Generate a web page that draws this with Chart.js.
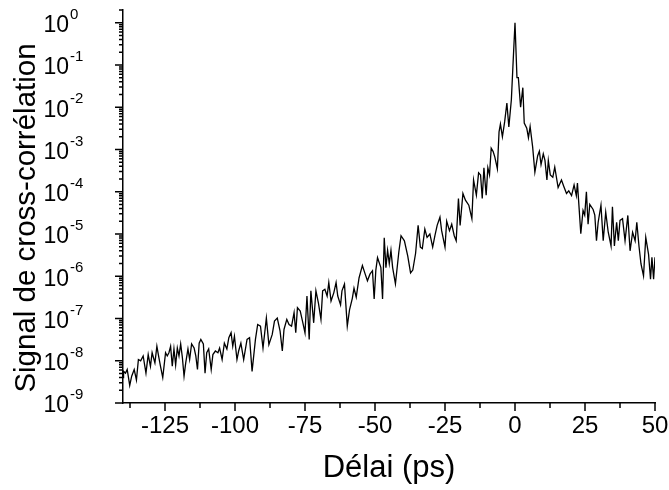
<!DOCTYPE html>
<html>
<head>
<meta charset="utf-8">
<script src="https://cdn.jsdelivr.net/npm/chart.js@4/dist/chart.umd.min.js"></script>
<style>
  html, body { margin: 0; padding: 0; background: #fff; }
</style>
</head>
<body>
<canvas id="myChart" width="669" height="490"></canvas>
<script>
// delay (ps)
const delays = [
  -140.0,-139.8,-139.1,-138.5,-137.6,-136.9,-136.0,-135.2,-134.5,-133.7,
  -132.8,-131.8,-131.0,-130.2,-129.6,-128.6,-127.9,-127.2,-126.6,-125.8,
  -124.8,-124.2,-123.6,-123.0,-122.4,-121.8,-121.2,-120.6,-120.0,-119.4,
  -118.8,-118.2,-117.6,-116.8,-116.2,-115.5,-114.6,-114.0,-113.4,-112.8,
  -112.2,-111.3,-110.7,-110.1,-109.4,-108.5,-107.9,-107.0,-106.1,-105.5,
  -104.6,-103.8,-102.9,-102.2,-101.4,-100.8,-100.2,-99.3,-98.7,-97.9,
  -96.9,-95.7,-94.8,-93.9,-92.7,-91.9,-90.9,-90.0,-88.8,-87.9,
  -86.7,-85.9,-84.9,-83.9,-83.1,-82.5,-81.5,-80.7,-79.8,-78.9,
  -78.3,-77.7,-76.7,-75.9,-75.0,-74.3,-73.5,-72.9,-71.9,-71.1,
  -70.2,-69.3,-68.7,-67.9,-67.1,-66.5,-65.7,-64.7,-63.9,-63.3,
  -62.3,-61.8,-60.9,-59.9,-59.1,-58.1,-57.5,-56.7,-55.7,-54.5,
  -53.5,-52.7,-51.8,-50.9,-50.3,-49.7,-49.1,-47.9,-47.3,-46.7,
  -46.1,-45.5,-44.9,-44.3,-43.7,-42.7,-41.5,-40.7,-39.5,-38.3,
  -37.3,-36.5,-35.5,-34.6,-33.8,-33.1,-32.2,-31.4,-30.4,-29.4,
  -28.6,-27.8,-26.8,-26.2,-25.0,-24.4,-23.4,-22.6,-21.7,-21.0,
  -20.2,-19.6,-18.6,-17.7,-16.5,-15.4,-14.8,-13.8,-13.0,-12.3,
  -11.7,-11.1,-10.3,-9.7,-9.1,-8.5,-7.8,-7.2,-6.3,-5.7,
  -5.2,-4.5,-3.7,-2.9,-2.2,-1.3,-0.75,0,0.7,1.2,
  2.0,2.8,3.3,4.2,4.8,5.4,6.3,7.1,8.1,8.7,
  9.3,10.1,10.7,11.4,11.9,12.6,13.5,14.2,15.4,16.6,
  17.5,18.4,19.2,20.2,21.1,21.9,22.3,23.5,24.3,24.9,
  25.5,26.1,26.7,27.9,28.5,29.1,29.7,30.7,31.5,32.4,
  33.3,34.3,34.8,35.5,36.3,36.9,37.5,38.4,39.3,40.3,
  41.1,42.0,42.9,43.5,44.3,45.0,45.9,46.7,47.7,48.4,
  48.9,49.5,50.0
];

// cross-correlation signal (normalised)
const signal = [
  4.0e-9,5.6e-9,5.1e-9,6.2e-9,2.6e-9,4.3e-9,6.2e-9,3.5e-9,1.07e-8,1.0e-8,
  1.3e-8,5.1e-9,1.4e-8,7.4e-9,1.55e-8,8.9e-9,2.2e-8,1.2e-8,7.4e-9,4.0e-9,
  1.55e-8,1.3e-8,1.55e-8,2.2e-8,7.4e-9,1.9e-8,7.9e-9,2.0e-8,1.3e-8,2.5e-8,
  1.2e-8,4.3e-9,8.9e-9,1.9e-8,1.07e-8,2.5e-8,2.0e-8,1.3e-8,6.2e-9,2.6e-8,
  3.2e-8,2.5e-8,5.1e-9,1.55e-8,1.9e-8,6.2e-9,1.4e-8,1.7e-8,1.55e-8,2.0e-8,
  1.07e-8,2.6e-8,1.9e-8,3.5e-8,4.6e-8,2.2e-8,3.8e-8,1.07e-8,1.7e-8,2.6e-8,
  1.07e-8,3.2e-8,3.5e-8,5.6e-9,3.2e-8,7.2e-8,6.6e-8,2.0e-8,1.02e-7,2.4e-8,
  4.2e-8,8.7e-8,1.02e-7,5.0e-8,1.7e-8,5.5e-8,9.5e-8,7.2e-8,6.6e-8,1.38e-7,
  4.6e-8,1.8e-7,1.5e-7,8.7e-8,4.6e-8,3.4e-7,3.2e-8,4.5e-7,7.9e-8,4.5e-7,
  2.3e-7,9.5e-8,4.5e-7,4.9e-7,3.4e-7,7.1e-7,2.6e-7,4.1e-7,7.1e-7,3.4e-7,
  2.1e-7,4.5e-7,6.5e-7,6.6e-8,1.6e-7,3.0e-7,5.2e-7,3.2e-7,9.1e-7,1.8e-6,
  1.12e-6,7.8e-7,1.12e-6,1.35e-6,2.9e-7,1.4e-6,2.75e-6,1.6e-6,2.9e-7,8.1e-6,
  1.6e-6,4.1e-6,2.0e-6,4.1e-6,1.6e-6,6.6e-7,3.7e-6,9.1e-6,6.9e-6,3.0e-6,
  1.2e-6,1.4e-6,3.5e-6,1.6e-5,4.9e-6,4.5e-6,1.3e-5,8.3e-6,1.0e-5,4.9e-6,
  9.1e-6,1.6e-5,2.5e-5,1.2e-5,4.9e-6,2.0e-5,1.2e-5,1.7e-5,9.1e-6,6.9e-6,
  6.9e-5,1.6e-5,9.1e-5,6.3e-5,4.8e-5,2.3e-5,1.9e-4,8.3e-5,2.8e-4,2.5e-4,
  6.9e-5,3.7e-4,8.3e-5,3.7e-4,2.5e-4,1.07e-3,8.9e-4,6.6e-4,3.5e-4,2.6e-3,
  4.0e-3,2.0e-3,4.5e-3,1.26e-2,3.4e-3,1.5e-2,9.1e-2,1.0,5.0e-2,5.0e-2,
  1.0e-2,2.9e-2,4.2e-3,3.2e-3,1.9e-3,3.5e-3,1.15e-3,2.9e-4,7.1e-4,9.1e-4,
  4.4e-4,7.9e-4,5.5e-4,1.9e-4,5.5e-4,2.5e-4,2.2e-4,3.8e-4,1.26e-4,1.9e-4,
  1.3e-4,9.1e-5,1.05e-4,8.1e-5,1.45e-4,8.1e-5,1.6e-4,1.02e-5,3.6e-5,2.8e-5,
  1.0e-4,1.7e-5,5.0e-5,3.8e-5,2.8e-5,6.9e-6,1.9e-5,4.8e-5,6.9e-6,3.3e-5,
  1.1e-5,5.2e-6,4.4e-5,5.2e-6,1.9e-5,6.9e-6,2.1e-5,2.3e-5,6.9e-6,2.75e-5,
  4.0e-6,1.1e-5,6.9e-6,1.9e-5,5.0e-6,1.95e-6,1.02e-6,8.3e-6,3.3e-6,8.5e-7,
  2.8e-6,8.5e-7,2.8e-6
];

const xMajorTicks = [-125, -100, -75, -50, -25, 0, 25, 50];
const xMinorTicks = [-137.5, -112.5, -87.5, -62.5, -37.5, -12.5, 12.5, 37.5];
const yDecades = [1e-9, 1e-8, 1e-7, 1e-6, 1e-5, 1e-4, 1e-3, 1e-2, 1e-1, 1e0];
const yExponents = ['-9', '-8', '-7', '-6', '-5', '-4', '-3', '-2', '-1', '0'];
const yMantissas = [2, 3, 4, 5, 6, 7, 8, 9];
const yTitle = 'Signal de cross-corrélation';

const FONT = '"Liberation Sans", Arial, Helvetica, sans-serif';

// tick marks (long/short), 10^n labels and y title, placed with the library's scales
const axisTicks = {
  id: 'axisTicks',
  afterDraw(chart) {
    const { ctx, scales: { x, y } } = chart;
    const bottom = y.bottom, left = x.left;
    ctx.save();
    ctx.strokeStyle = '#000';
    ctx.lineWidth = 1.5;
    ctx.beginPath();
    xMajorTicks.forEach(v => {
      const px = x.getPixelForValue(v);
      ctx.moveTo(px, bottom); ctx.lineTo(px, bottom + 8);
    });
    xMinorTicks.forEach(v => {
      const px = x.getPixelForValue(v);
      ctx.moveTo(px, bottom); ctx.lineTo(px, bottom + 5);
    });
    yDecades.forEach(d => {
      const py = y.getPixelForValue(d);
      ctx.moveTo(left, py); ctx.lineTo(left - 8, py);
      yMantissas.forEach(m => {
        const v = m * d;
        if (v > y.max) return;
        const pm = y.getPixelForValue(v);
        ctx.moveTo(left, pm); ctx.lineTo(left - 4, pm);
      });
    });
    ctx.stroke();

    ctx.fillStyle = '#000';
    ctx.textBaseline = 'middle';
    yDecades.forEach((d, i) => {
      const py = y.getPixelForValue(d);
      ctx.font = '23px ' + FONT;
      ctx.textAlign = 'right';
      ctx.fillText('10', 69, py + 3);
      ctx.font = '15px ' + FONT;
      ctx.textAlign = 'left';
      ctx.fillText(yExponents[i], 70, py - 8);
    });

    ctx.translate(27, 218);
    ctx.rotate(-Math.PI / 2);
    ctx.textAlign = 'center';
    ctx.font = '29.5px ' + FONT;
    ctx.fillText(yTitle, 0, 0);
    ctx.restore();
  }
};

const ctx = document.getElementById('myChart').getContext('2d');
const myChart = new Chart(ctx, {
  type: 'line',
  data: {
    datasets: [{
      data: delays.map((d, i) => ({ x: d, y: signal[i] })),
      borderColor: '#000',
      borderWidth: 1.3,
      pointRadius: 0,
      tension: 0,
      fill: false
    }]
  },
  options: {
    responsive: false,
    animation: false,
    devicePixelRatio: 1,
    layout: { padding: { top: 10, right: 14, left: 0, bottom: 0 } },
    plugins: { legend: { display: false }, tooltip: { enabled: false } },
    scales: {
      x: {
        type: 'linear',
        min: -140,
        max: 50,
        afterBuildTicks: s => { s.ticks = xMajorTicks.map(v => ({ value: v })); },
        afterFit: s => { s.height = 87; s.paddingLeft = 0; s.paddingRight = 0; },
        grid: { display: false },
        border: { display: true, color: '#000', width: 1.5 },
        ticks: {
          color: '#000',
          padding: 1,
          maxRotation: 0,
          autoSkip: false,
          font: { family: FONT, size: 24 },
          callback: v => String(v)
        },
        title: {
          display: true,
          text: 'Délai (ps)',
          color: '#000',
          font: { family: FONT, size: 31 },
          padding: { top: 0, bottom: 3 }
        }
      },
      y: {
        type: 'logarithmic',
        min: 1e-9,
        max: 2,
        afterFit: s => { s.width = 123; s.paddingTop = 0; s.paddingBottom = 0; },
        grid: { display: false },
        border: { display: true, color: '#000', width: 1.5 },
        ticks: { display: false },
        title: { display: false }
      }
    }
  },
  plugins: [axisTicks]
});
</script>
</body>
</html>
